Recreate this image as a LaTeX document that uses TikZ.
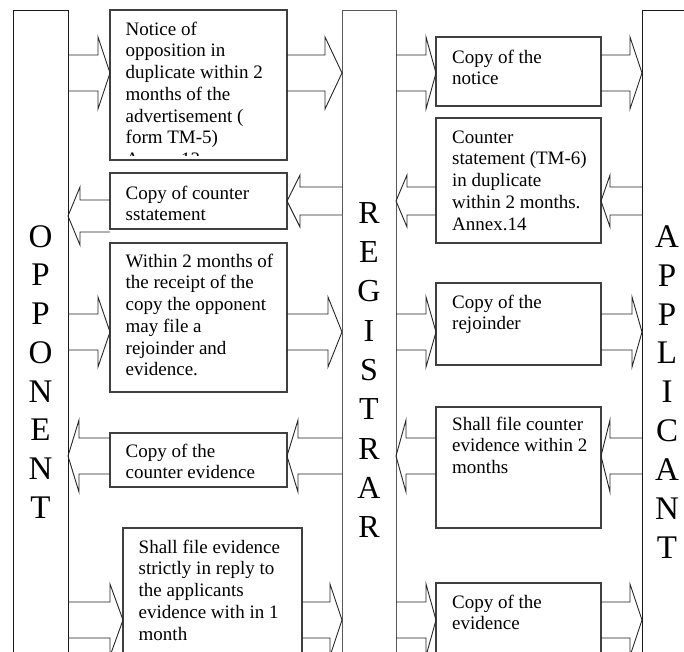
\documentclass[tikz,border=0pt]{standalone}
\usepackage{fontspec}
\setmainfont{Liberation Serif}
\usetikzlibrary{calc}
\tikzset{
 bar/.style={draw=black!90, line width=1pt, fill=white, inner sep=0pt, outer sep=0pt, anchor=north west},
 box/.style={draw=black!75, line width=1.1pt, fill=white, inner sep=0pt, outer sep=0pt, anchor=north west},
 arr/.style={draw=black!85, line width=0.9pt, line join=miter},
 txt/.style={anchor=north west, inner sep=0pt, align=left, font=\fontsize{19}{21.7}\selectfont},
 big/.style={anchor=north, inner sep=0pt, align=center},
}
% right-pointing block arrow: #1 source anchor, #2 target anchor, #3 y, #4 shaft half, #5 head half, #6 head length
\newcommand{\blockR}[6]{\draw[arr] let \p1=(#1), \p2=(#2), \p3=(0,#3) in
 (\x1,\y3+#4pt) -- (\x2-#6pt,\y3+#4pt) -- (\x2-#6pt,\y3+#5pt) -- (\x2,\y3)
 -- (\x2-#6pt,\y3-#5pt) -- (\x2-#6pt,\y3-#4pt) -- (\x1,\y3-#4pt);}
% left-pointing block arrow
\newcommand{\blockL}[6]{\draw[arr] let \p1=(#1), \p2=(#2), \p3=(0,#3) in
 (\x1,\y3+#4pt) -- (\x2+#6pt,\y3+#4pt) -- (\x2+#6pt,\y3+#5pt) -- (\x2,\y3)
 -- (\x2+#6pt,\y3-#5pt) -- (\x2+#6pt,\y3-#4pt) -- (\x1,\y3-#4pt);}
\begin{document}
\begin{tikzpicture}[x=1pt,y=-1pt]
\useasboundingbox (0,0) rectangle (684,651);
\clip (0,0) rectangle (684,651);
\fill[white] (0,0) rectangle (684,651);

% bars
\node[bar, minimum width=55pt, minimum height=700pt] (opp) at (13,10) {};
\node[bar, draw=black!65, minimum width=54pt, minimum height=700pt] (reg) at (342,10) {};
\node[bar, minimum width=55pt, minimum height=700pt] (app) at (642,10) {};

\node[big, font=\fontsize{33}{38.7}\selectfont] (oppt) at (40.5,225) {\rule{0pt}{22pt}O\\P\\P\\O\\N\\E\\N\\T};
\node[big, font=\fontsize{32}{39.3}\selectfont] (regt) at (369,201) {\rule{0pt}{22pt}R\\E\\G\\I\\S\\T\\R\\A\\R};
\node[big, font=\fontsize{33}{38.9}\selectfont] (appt) at (667,225) {\rule{0pt}{22pt}A\\P\\P\\L\\I\\C\\A\\N\\T};

% left column boxes
\node[box, minimum width=177pt, minimum height=150pt] (b1) at (110,10) {};
\node[box, minimum width=177pt, minimum height=56pt] (b2) at (110,173) {};
\node[box, minimum width=177pt, minimum height=149pt] (b3) at (110,243) {};
\node[box, minimum width=177pt, minimum height=54pt] (b4) at (110,433) {};
\node[box, minimum width=179pt, minimum height=200pt] (b5) at (123,528) {};

% right column boxes
\node[box, minimum width=165pt, minimum height=69pt] (b6) at (436,37) {};
\node[box, minimum width=165pt, minimum height=125pt] (b7) at (436,118) {};
\node[box, minimum width=165pt, minimum height=82pt] (b8) at (436,283) {};
\node[box, minimum width=165pt, minimum height=121pt] (b9) at (436,407) {};
\node[box, minimum width=165pt, minimum height=200pt] (b10) at (436,583) {};

% texts
\begin{scope}
\clip (110,10) rectangle (287,155.5);
\node[txt] (t1) at ($(b1.north west)+(15.5,11)$) {\rule{0pt}{14pt}Notice of\\opposition in\\duplicate within 2\\months of the\\advertisement (\\form TM-5)\\Annex.13};
\end{scope}
\node[txt] (t2) at ($(b2.north west)+(15.5,12)$) {\rule{0pt}{14pt}Copy of counter\\sstatement};
\node[txt] (t3) at ($(b3.north west)+(15.5,10)$) {\rule{0pt}{14pt}Within 2 months of\\the receipt of the\\copy the opponent\\may file a\\rejoinder and\\evidence.};
\node[txt] (t4) at ($(b4.north west)+(15.5,10)$) {\rule{0pt}{14pt}Copy of the\\counter evidence};
\node[txt] (t5) at ($(b5.north west)+(15.5,11)$) {\rule{0pt}{14pt}Shall file evidence\\strictly in reply to\\the applicants\\evidence with in 1\\month};
\node[txt] (t6) at ($(b6.north west)+(16,12)$) {\rule{0pt}{14pt}Copy of the\\notice};
\node[txt] (t7) at ($(b7.north west)+(16,11)$) {\rule{0pt}{14pt}Counter\\statement (TM-6)\\in duplicate\\within 2 months.\\Annex.14};
\node[txt] (t8) at ($(b8.north west)+(16,11)$) {\rule{0pt}{14pt}Copy of the\\rejoinder};
\node[txt] (t9) at ($(b9.north west)+(16,9)$) {\rule{0pt}{14pt}Shall file counter\\evidence within 2\\months};
\node[txt] (t10) at ($(b10.north west)+(16,11)$) {\rule{0pt}{14pt}Copy of the\\evidence};

% arrows: opponent <-> left boxes
\blockR{opp.east}{b1.west}{73}{18}{36}{12}
\blockL{b2.west}{opp.east}{216}{16}{29}{12}
\blockR{opp.east}{b3.west}{332}{18}{35}{12}
\blockL{b4.west}{opp.east}{456}{18}{36}{11}
\blockR{opp.east}{b5.west}{620}{18}{36}{13}

% left boxes <-> registrar
\blockR{b1.east}{reg.west}{73}{18}{36}{17}
\blockL{reg.west}{b2.east}{201}{14}{26}{13}
\blockR{b3.east}{reg.west}{332}{18}{35}{14}
\blockL{reg.west}{b4.east}{456}{18}{36}{11}
\blockR{b5.east}{reg.west}{620}{18}{36}{12}

% registrar <-> right boxes
\blockR{reg.east}{b6.west}{73}{18}{36}{10}
\blockL{b7.west}{reg.east}{201}{14}{26}{11}
\blockR{reg.east}{b8.west}{332}{18}{35}{10}
\blockL{b9.west}{reg.east}{456}{18}{36}{10}
\blockR{reg.east}{b10.west}{620}{18}{36}{10}

% right boxes <-> applicant
\blockR{b6.east}{app.west}{73}{18}{36}{12}
\blockL{app.west}{b7.east}{201}{14}{26}{9}
\blockR{b8.east}{app.west}{332}{18}{35}{10}
\blockL{app.west}{b9.east}{456}{18}{36}{9}
\blockR{b10.east}{app.west}{620}{18}{36}{12}
\end{tikzpicture}
\end{document}
